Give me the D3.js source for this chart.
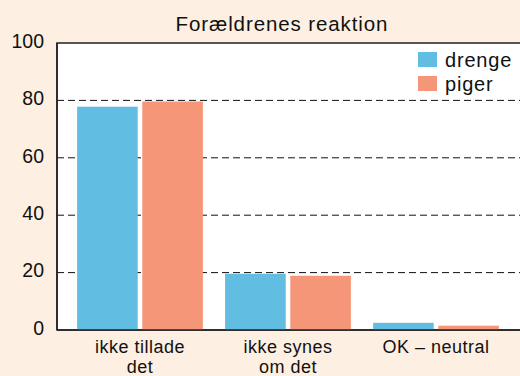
<!DOCTYPE html>
<html>
<head>
<meta charset="utf-8">
<script src="https://cdn.jsdelivr.net/npm/d3@7"></script>
<style>
  html, body { margin: 0; padding: 0; background: #fdefe1; }
  svg { display: block; }
  text { font-family: "Liberation Sans", Arial, sans-serif; fill: #111; }
</style>
</head>
<body>
<svg id="chart" width="520" height="376"></svg>
<script>
// Parents' reaction, percent of boys and girls
const categories = [["ikke tillade", "det"], ["ikke synes", "om det"], ["OK – neutral"]];
const seriesNames = ["drenge", "piger"];
const drenge = [77.8, 19.6, 2.5];
const piger = [79.6, 18.9, 1.5];
const yTicks = [0, 20, 40, 60, 80, 100];
const title = "Forældrenes reaktion";

const colors = ["#62bde2", "#f59679"];
const plot = { left: 57, top: 43, right: 530, bottom: 330 };

const svg = d3.select("#chart");

const y = d3.scaleLinear().domain([0, 100]).range([plot.bottom, plot.top]);
const x = d3.scaleBand().domain(d3.range(categories.length)).range([66, 510]).paddingInner(0.15).paddingOuter(0.075);
const xs = d3.scaleBand().domain(d3.range(seriesNames.length)).range([0, x.bandwidth()]).paddingInner(0.07);

// plot area
svg.append("rect")
  .attr("x", plot.left).attr("y", plot.top)
  .attr("width", plot.right - plot.left).attr("height", plot.bottom - plot.top)
  .attr("fill", "#fff").attr("stroke", "#222").attr("stroke-width", 1.5);

// dashed gridlines
svg.append("g").selectAll("line")
  .data(yTicks.filter(t => t > 0 && t < 100))
  .join("line")
  .attr("x1", plot.left).attr("x2", plot.right)
  .attr("y1", d => y(d)).attr("y2", d => y(d))
  .attr("stroke", "#111").attr("stroke-width", 1)
  .attr("stroke-dasharray", "7,4");

// bars
const series = [drenge, piger];
const groups = svg.append("g").selectAll("g")
  .data(categories.map((c, i) => i))
  .join("g")
  .attr("transform", i => `translate(${x(i)},0)`);
groups.selectAll("rect")
  .data(i => series.map((s, k) => ({ k, v: s[i] })))
  .join("rect")
  .attr("x", d => xs(d.k))
  .attr("width", xs.bandwidth())
  .attr("y", d => y(d.v))
  .attr("height", d => y(0) - y(d.v))
  .attr("fill", d => colors[d.k]);

// axis frame on top of bars
svg.append("line")
  .attr("x1", plot.left).attr("x2", plot.right)
  .attr("y1", plot.bottom).attr("y2", plot.bottom)
  .attr("stroke", "#222").attr("stroke-width", 1.5);
svg.append("line")
  .attr("x1", plot.left).attr("x2", plot.left)
  .attr("y1", plot.top).attr("y2", plot.bottom)
  .attr("stroke", "#222").attr("stroke-width", 1.5);

// y tick labels
const yAxis = d3.axisLeft(y).tickValues(yTicks).tickSize(0).tickPadding(13);
const ya = svg.append("g").attr("transform", `translate(${plot.left},0)`).call(yAxis);
ya.select(".domain").remove();
ya.selectAll("text").attr("font-size", 19.5).attr("fill", "#111").attr("dy", "0.22em")
  .style("font-family", "'Liberation Sans', Arial, sans-serif");

// x category labels
const xl = svg.append("g").selectAll("text")
  .data(categories.map((c, i) => ({ c, i })))
  .join("text")
  .attr("text-anchor", "middle")
  .attr("font-size", 18)
  .attr("letter-spacing", 0.5)
  .attr("x", d => x(d.i) + x.bandwidth() / 2)
  .attr("y", 353);
xl.selectAll("tspan")
  .data(d => d.c)
  .join("tspan")
  .attr("x", function () { return d3.select(this.parentNode).attr("x"); })
  .attr("dy", (d, j) => j === 0 ? 0 : 20)
  .text(d => d);

// title
svg.append("text")
  .attr("x", 282).attr("y", 31)
  .attr("text-anchor", "middle")
  .attr("font-size", 20.5)
  .attr("letter-spacing", 0.9)
  .text(title);

// legend
const lg = svg.append("g").attr("transform", "translate(418,52)");
seriesNames.forEach((n, k) => {
  lg.append("rect").attr("x", 0).attr("y", k * 24).attr("width", 19).attr("height", 15).attr("fill", colors[k]);
  lg.append("text").attr("x", 27).attr("y", k * 24 + 15).attr("font-size", 20)
    .attr("letter-spacing", 0.8).text(n);
});
</script>
</body>
</html>
